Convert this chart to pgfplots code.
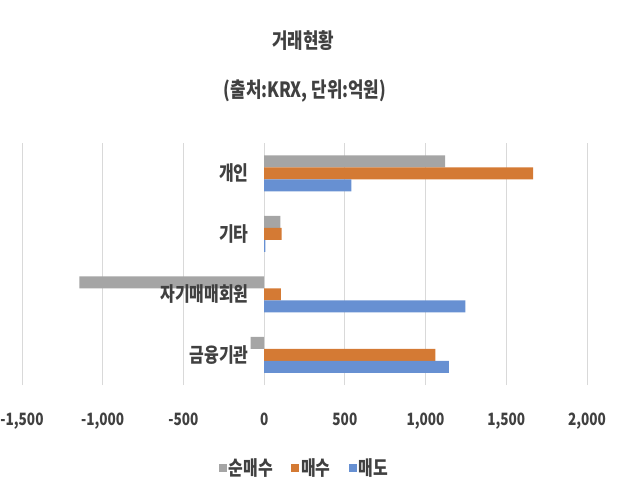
\documentclass[border=0pt]{standalone}
\usepackage{pgfplots}
\pgfplotsset{compat=1.18}
\usepackage{fontspec}
\setmainfont{Noto Sans CJK KR}[FakeStretch=0.8]
\definecolor{txt}{HTML}{404040}
\definecolor{cgray}{HTML}{A5A5A5}
\definecolor{corange}{HTML}{D47A34}
\definecolor{cblue}{HTML}{6790D2}
\definecolor{gridc}{HTML}{D9D9D9}
\begin{document}
\begin{tikzpicture}[x=1pt,y=1pt]
\path[use as bounding box] (0,0) rectangle (639,488);
\node[font=\fontsize{21}{23}\selectfont\bfseries, text=txt] at (303,447) {거래현황};
\node[font=\fontsize{21}{23}\selectfont\bfseries, text=txt] at (305,397) {(출처:KRX, 단위:억원)};
\begin{axis}[
  at={(22pt,103pt)}, anchor=south west,
  scale only axis, width=565pt, height=242pt,
  xbar, bar width=12pt,
  xmin=-1500, xmax=2000, ymin=-0.5, ymax=3.5,
  xtick={-1500,-1000,-500,0,500,1000,1500,2000},
  scaled x ticks=false,
  ytick=\empty,
  xmajorgrids, grid style={gridc, line width=0.8pt},
  axis line style={draw=none},
  major tick length=0pt,
  /pgf/number format/assume math mode=true,
  /pgf/number format/1000 sep={,},
  xticklabel style={font=\fontsize{17}{18}\selectfont\bfseries, text=txt, yshift=-24pt},
  clip=false,
  legend style={at={(0.5,-0.343)}, anchor=center, draw=none, fill=none,
    font=\fontsize{20}{21}\selectfont\bfseries, text=txt,
    /tikz/every even column/.append style={column sep=16pt}},
  legend columns=3,
  legend image code/.code={\fill[#1] (0pt,-4pt) rectangle (8pt,4pt);},
]
\addplot[fill=cgray, draw=none, bar shift=12pt] coordinates {(1121,3) (101,2) (-1144,1) (-84,0)};
\addplot[fill=corange, draw=none, bar shift=0pt] coordinates {(1667,3) (109,2) (104,1) (1060,0)};
\addplot[fill=cblue, draw=none, bar shift=-12pt] coordinates {(541,3) (8,2) (1247,1) (1144,0)};
\legend{순매수, 매수, 매도}
\node[anchor=east, xshift=-12pt, font=\fontsize{20}{21}\selectfont\bfseries, text=txt] at (axis cs:0,3) {개인};
\node[anchor=east, xshift=-12pt, font=\fontsize{20}{21}\selectfont\bfseries, text=txt] at (axis cs:0,2) {기타};
\node[anchor=east, xshift=-12pt, font=\fontsize{20}{21}\selectfont\bfseries, text=txt] at (axis cs:0,1) {자기매매회원};
\node[anchor=east, xshift=-12pt, font=\fontsize{20}{21}\selectfont\bfseries, text=txt] at (axis cs:0,0) {금융기관};
\end{axis}
\end{tikzpicture}
\end{document}
